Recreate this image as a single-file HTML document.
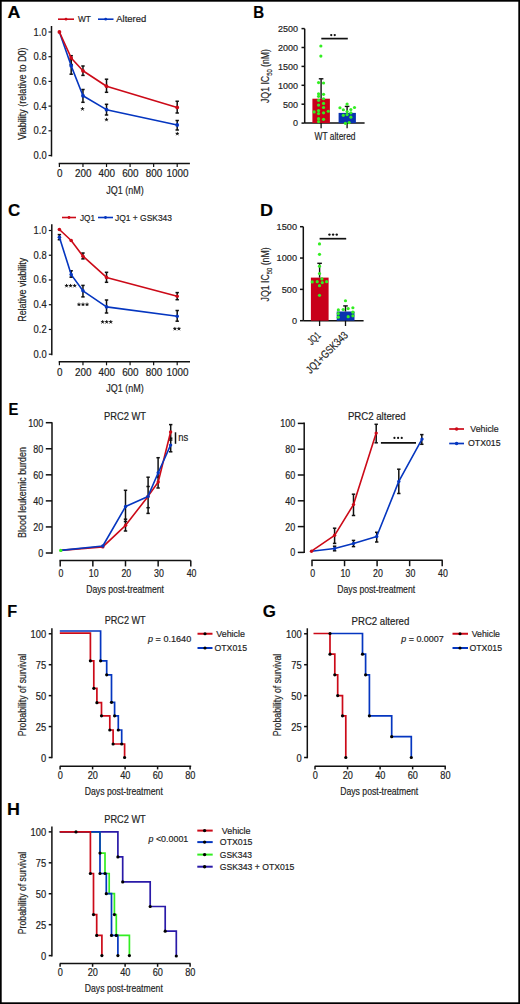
<!DOCTYPE html>
<html><head><meta charset="utf-8"><style>
html,body{margin:0;padding:0;background:#fff;}
svg{display:block;}
text{font-family:"Liberation Sans", sans-serif;stroke:#222;stroke-width:0.18px;}
</style></head><body>
<svg width="520" height="1004" viewBox="0 0 520 1004">
<rect x="0" y="0" width="520" height="1004" fill="#fff"/>
<text x="0" y="0" font-size="17" font-weight="bold" fill="#000" stroke="#000" stroke-width="0.45" transform="translate(7.55 17.80) scale(1.052 1)">A</text>
<line x1="58.00" y1="19.20" x2="74.00" y2="19.20" stroke="#cc0a18" stroke-width="1.6"/>
<circle cx="66.00" cy="19.20" r="1.4" fill="#cc0a18"/>
<text x="77.90" y="22.20" font-size="9.5" text-anchor="start" fill="#222" textLength="12.90" lengthAdjust="spacingAndGlyphs">WT</text>
<line x1="98.00" y1="19.20" x2="113.50" y2="19.20" stroke="#0536c0" stroke-width="1.6"/>
<circle cx="105.70" cy="19.20" r="1.4" fill="#0536c0"/>
<text x="116.30" y="22.20" font-size="9.5" text-anchor="start" fill="#222" textLength="29.90" lengthAdjust="spacingAndGlyphs">Altered</text>
<line x1="51.50" y1="26.00" x2="51.50" y2="156.50" stroke="#111" stroke-width="1.5"/>
<line x1="48.50" y1="155.50" x2="51.50" y2="155.50" stroke="#111" stroke-width="1.2"/>
<text x="46.60" y="159.00" font-size="10" text-anchor="end" fill="#222" textLength="13.00" lengthAdjust="spacingAndGlyphs">0.0</text>
<line x1="48.50" y1="130.80" x2="51.50" y2="130.80" stroke="#111" stroke-width="1.2"/>
<text x="46.60" y="134.30" font-size="10" text-anchor="end" fill="#222" textLength="13.00" lengthAdjust="spacingAndGlyphs">0.2</text>
<line x1="48.50" y1="106.10" x2="51.50" y2="106.10" stroke="#111" stroke-width="1.2"/>
<text x="46.60" y="109.60" font-size="10" text-anchor="end" fill="#222" textLength="13.00" lengthAdjust="spacingAndGlyphs">0.4</text>
<line x1="48.50" y1="81.40" x2="51.50" y2="81.40" stroke="#111" stroke-width="1.2"/>
<text x="46.60" y="84.90" font-size="10" text-anchor="end" fill="#222" textLength="13.00" lengthAdjust="spacingAndGlyphs">0.6</text>
<line x1="48.50" y1="56.70" x2="51.50" y2="56.70" stroke="#111" stroke-width="1.2"/>
<text x="46.60" y="60.20" font-size="10" text-anchor="end" fill="#222" textLength="13.00" lengthAdjust="spacingAndGlyphs">0.8</text>
<line x1="48.50" y1="32.00" x2="51.50" y2="32.00" stroke="#111" stroke-width="1.2"/>
<text x="46.60" y="35.50" font-size="10" text-anchor="end" fill="#222" textLength="13.00" lengthAdjust="spacingAndGlyphs">1.0</text>
<text x="26.50" y="93.80" font-size="10.5" text-anchor="middle" fill="#222" textLength="92.50" lengthAdjust="spacingAndGlyphs" transform="rotate(-90 26.50 93.80)">Viability (relative to D0)</text>
<line x1="58.70" y1="163.50" x2="189.90" y2="163.50" stroke="#111" stroke-width="1.5"/>
<line x1="59.40" y1="163.50" x2="59.40" y2="167.00" stroke="#111" stroke-width="1.2"/>
<text x="59.70" y="176.60" font-size="10" text-anchor="middle" fill="#222" textLength="5.50" lengthAdjust="spacingAndGlyphs">0</text>
<line x1="82.96" y1="163.50" x2="82.96" y2="167.00" stroke="#111" stroke-width="1.2"/>
<text x="83.26" y="176.60" font-size="10" text-anchor="middle" fill="#222" textLength="16.50" lengthAdjust="spacingAndGlyphs">200</text>
<line x1="106.52" y1="163.50" x2="106.52" y2="167.00" stroke="#111" stroke-width="1.2"/>
<text x="106.82" y="176.60" font-size="10" text-anchor="middle" fill="#222" textLength="16.50" lengthAdjust="spacingAndGlyphs">400</text>
<line x1="130.08" y1="163.50" x2="130.08" y2="167.00" stroke="#111" stroke-width="1.2"/>
<text x="130.38" y="176.60" font-size="10" text-anchor="middle" fill="#222" textLength="16.50" lengthAdjust="spacingAndGlyphs">600</text>
<line x1="153.64" y1="163.50" x2="153.64" y2="167.00" stroke="#111" stroke-width="1.2"/>
<text x="153.94" y="176.60" font-size="10" text-anchor="middle" fill="#222" textLength="16.50" lengthAdjust="spacingAndGlyphs">800</text>
<line x1="177.20" y1="163.50" x2="177.20" y2="167.00" stroke="#111" stroke-width="1.2"/>
<text x="177.50" y="176.60" font-size="10" text-anchor="middle" fill="#222" textLength="22.00" lengthAdjust="spacingAndGlyphs">1000</text>
<text x="125.00" y="193.60" font-size="11" text-anchor="middle" fill="#222" textLength="37.50" lengthAdjust="spacingAndGlyphs">JQ1 (nM)</text>
<line x1="71.18" y1="55.70" x2="71.18" y2="64.50" stroke="#111" stroke-width="1.5"/>
<line x1="69.48" y1="55.70" x2="72.88" y2="55.70" stroke="#111" stroke-width="1.5"/>
<line x1="69.48" y1="64.50" x2="72.88" y2="64.50" stroke="#111" stroke-width="1.5"/>
<line x1="71.18" y1="59.00" x2="71.18" y2="74.20" stroke="#111" stroke-width="1.5"/>
<line x1="69.48" y1="59.00" x2="72.88" y2="59.00" stroke="#111" stroke-width="1.5"/>
<line x1="69.48" y1="74.20" x2="72.88" y2="74.20" stroke="#111" stroke-width="1.5"/>
<line x1="82.96" y1="66.00" x2="82.96" y2="75.40" stroke="#111" stroke-width="1.5"/>
<line x1="81.26" y1="66.00" x2="84.66" y2="66.00" stroke="#111" stroke-width="1.5"/>
<line x1="81.26" y1="75.40" x2="84.66" y2="75.40" stroke="#111" stroke-width="1.5"/>
<line x1="82.96" y1="89.50" x2="82.96" y2="102.30" stroke="#111" stroke-width="1.5"/>
<line x1="81.26" y1="89.50" x2="84.66" y2="89.50" stroke="#111" stroke-width="1.5"/>
<line x1="81.26" y1="102.30" x2="84.66" y2="102.30" stroke="#111" stroke-width="1.5"/>
<line x1="106.52" y1="79.20" x2="106.52" y2="92.30" stroke="#111" stroke-width="1.5"/>
<line x1="104.82" y1="79.20" x2="108.22" y2="79.20" stroke="#111" stroke-width="1.5"/>
<line x1="104.82" y1="92.30" x2="108.22" y2="92.30" stroke="#111" stroke-width="1.5"/>
<line x1="106.52" y1="104.30" x2="106.52" y2="115.00" stroke="#111" stroke-width="1.5"/>
<line x1="104.82" y1="104.30" x2="108.22" y2="104.30" stroke="#111" stroke-width="1.5"/>
<line x1="104.82" y1="115.00" x2="108.22" y2="115.00" stroke="#111" stroke-width="1.5"/>
<line x1="177.20" y1="101.25" x2="177.20" y2="113.00" stroke="#111" stroke-width="1.5"/>
<line x1="175.50" y1="101.25" x2="178.90" y2="101.25" stroke="#111" stroke-width="1.5"/>
<line x1="175.50" y1="113.00" x2="178.90" y2="113.00" stroke="#111" stroke-width="1.5"/>
<line x1="177.20" y1="120.50" x2="177.20" y2="130.00" stroke="#111" stroke-width="1.5"/>
<line x1="175.50" y1="120.50" x2="178.90" y2="120.50" stroke="#111" stroke-width="1.5"/>
<line x1="175.50" y1="130.00" x2="178.90" y2="130.00" stroke="#111" stroke-width="1.5"/>
<path d="M59.40,32.00 L71.18,65.84 L82.96,95.73 L106.52,109.68 L177.20,125.00" stroke="#0536c0" stroke-width="1.6" fill="none" stroke-linejoin="round"/>
<path d="M59.40,32.00 L71.18,57.94 L82.96,70.78 L106.52,86.22 L177.20,107.46" stroke="#cc0a18" stroke-width="1.6" fill="none" stroke-linejoin="round"/>
<circle cx="59.40" cy="32.00" r="1.9" fill="#cc0a18"/>
<circle cx="71.18" cy="57.94" r="1.9" fill="#cc0a18"/>
<circle cx="82.96" cy="70.78" r="1.9" fill="#cc0a18"/>
<circle cx="106.52" cy="86.22" r="1.9" fill="#cc0a18"/>
<circle cx="177.20" cy="107.46" r="1.9" fill="#cc0a18"/>
<circle cx="71.18" cy="65.84" r="1.9" fill="#0536c0"/>
<circle cx="82.96" cy="95.73" r="1.9" fill="#0536c0"/>
<circle cx="106.52" cy="109.68" r="1.9" fill="#0536c0"/>
<circle cx="177.20" cy="125.00" r="1.9" fill="#0536c0"/>
<path d="M82.50,109.00 L82.50,107.56 M82.50,109.00 L83.87,108.56 M82.50,109.00 L83.34,110.16 M82.50,109.00 L81.66,110.16 M82.50,109.00 L81.13,108.56 " stroke="#111" stroke-width="0.94" stroke-linecap="round" fill="none"/>
<path d="M106.50,119.70 L106.50,118.26 M106.50,119.70 L107.87,119.26 M106.50,119.70 L107.34,120.86 M106.50,119.70 L105.66,120.86 M106.50,119.70 L105.13,119.26 " stroke="#111" stroke-width="0.94" stroke-linecap="round" fill="none"/>
<path d="M177.30,133.75 L177.30,132.31 M177.30,133.75 L178.67,133.31 M177.30,133.75 L178.14,134.91 M177.30,133.75 L176.46,134.91 M177.30,133.75 L175.93,133.31 " stroke="#111" stroke-width="0.94" stroke-linecap="round" fill="none"/>
<text x="0" y="0" font-size="17" font-weight="bold" fill="#000" stroke="#000" stroke-width="0.45" transform="translate(253.29 17.80) scale(0.887 1)">B</text>
<line x1="304.70" y1="28.70" x2="304.70" y2="123.10" stroke="#111" stroke-width="1.5"/>
<line x1="301.50" y1="123.10" x2="304.70" y2="123.10" stroke="#111" stroke-width="1.5"/>
<text x="298.00" y="126.40" font-size="9.5" text-anchor="end" fill="#222" textLength="5.00" lengthAdjust="spacingAndGlyphs">0</text>
<line x1="301.50" y1="104.20" x2="304.70" y2="104.20" stroke="#111" stroke-width="1.5"/>
<text x="298.00" y="107.50" font-size="9.5" text-anchor="end" fill="#222" textLength="15.00" lengthAdjust="spacingAndGlyphs">500</text>
<line x1="301.50" y1="85.30" x2="304.70" y2="85.30" stroke="#111" stroke-width="1.5"/>
<text x="298.00" y="88.60" font-size="9.5" text-anchor="end" fill="#222" textLength="20.00" lengthAdjust="spacingAndGlyphs">1000</text>
<line x1="301.50" y1="66.40" x2="304.70" y2="66.40" stroke="#111" stroke-width="1.5"/>
<text x="298.00" y="69.70" font-size="9.5" text-anchor="end" fill="#222" textLength="20.00" lengthAdjust="spacingAndGlyphs">1500</text>
<line x1="301.50" y1="47.50" x2="304.70" y2="47.50" stroke="#111" stroke-width="1.5"/>
<text x="298.00" y="50.80" font-size="9.5" text-anchor="end" fill="#222" textLength="20.00" lengthAdjust="spacingAndGlyphs">2000</text>
<line x1="301.50" y1="28.60" x2="304.70" y2="28.60" stroke="#111" stroke-width="1.5"/>
<text x="298.00" y="31.90" font-size="9.5" text-anchor="end" fill="#222" textLength="20.00" lengthAdjust="spacingAndGlyphs">2500</text>
<text x="269.30" y="76.00" font-size="10.5" text-anchor="middle" fill="#222" textLength="54.00" lengthAdjust="spacingAndGlyphs" transform="rotate(-90 269.30 76.00)">JQ1 IC<tspan font-size="7" dy="2.3">50</tspan><tspan dy="-2.3"> (nM)</tspan></text>
<line x1="304.70" y1="123.10" x2="364.60" y2="123.10" stroke="#111" stroke-width="1.5"/>
<rect x="312.40" y="98.70" width="17.50" height="24.40" fill="#c8001a"/>
<rect x="338.60" y="112.90" width="17.30" height="10.20" fill="#0a32b0"/>
<line x1="321.10" y1="123.10" x2="321.10" y2="128.30" stroke="#111" stroke-width="1.3"/>
<line x1="347.10" y1="123.10" x2="347.10" y2="128.30" stroke="#111" stroke-width="1.3"/>
<line x1="321.10" y1="78.80" x2="321.10" y2="98.70" stroke="#111" stroke-width="1.4"/>
<line x1="318.80" y1="78.80" x2="323.40" y2="78.80" stroke="#111" stroke-width="1.4"/>
<line x1="347.10" y1="106.40" x2="347.10" y2="112.90" stroke="#111" stroke-width="1.4"/>
<line x1="344.80" y1="106.40" x2="349.40" y2="106.40" stroke="#111" stroke-width="1.4"/>
<line x1="321.30" y1="38.60" x2="347.80" y2="38.60" stroke="#111" stroke-width="1.7"/>
<circle cx="331.25" cy="35.10" r="1.15" fill="#111"/>
<circle cx="334.75" cy="35.10" r="1.15" fill="#111"/>
<text x="335.00" y="139.80" font-size="10.5" text-anchor="middle" fill="#222" textLength="41.00" lengthAdjust="spacingAndGlyphs">WT altered</text>
<circle cx="320.86" cy="45.98" r="1.6" fill="#33ee22"/>
<circle cx="320.86" cy="56.07" r="1.6" fill="#33ee22"/>
<circle cx="318.57" cy="82.58" r="1.6" fill="#33ee22"/>
<circle cx="323.55" cy="82.99" r="1.6" fill="#33ee22"/>
<circle cx="318.57" cy="93.76" r="1.6" fill="#33ee22"/>
<circle cx="323.55" cy="94.29" r="1.6" fill="#33ee22"/>
<circle cx="318.57" cy="96.31" r="1.6" fill="#33ee22"/>
<circle cx="323.55" cy="98.73" r="1.6" fill="#33ee22"/>
<circle cx="318.57" cy="100.35" r="1.6" fill="#33ee22"/>
<circle cx="318.57" cy="105.06" r="1.6" fill="#33ee22"/>
<circle cx="323.55" cy="103.45" r="1.6" fill="#33ee22"/>
<circle cx="323.55" cy="107.48" r="1.6" fill="#33ee22"/>
<circle cx="314.13" cy="111.92" r="1.6" fill="#33ee22"/>
<circle cx="318.57" cy="110.58" r="1.6" fill="#33ee22"/>
<circle cx="318.57" cy="113.54" r="1.6" fill="#33ee22"/>
<circle cx="323.55" cy="112.87" r="1.6" fill="#33ee22"/>
<circle cx="328.26" cy="111.25" r="1.6" fill="#33ee22"/>
<circle cx="318.57" cy="118.65" r="1.6" fill="#33ee22"/>
<circle cx="323.55" cy="119.33" r="1.6" fill="#33ee22"/>
<circle cx="318.57" cy="121.62" r="1.6" fill="#33ee22"/>
<circle cx="347.11" cy="104.12" r="1.6" fill="#33ee22"/>
<circle cx="339.97" cy="107.75" r="1.6" fill="#33ee22"/>
<circle cx="354.51" cy="107.48" r="1.6" fill="#33ee22"/>
<circle cx="343.34" cy="109.77" r="1.6" fill="#33ee22"/>
<circle cx="350.87" cy="109.50" r="1.6" fill="#33ee22"/>
<circle cx="347.11" cy="111.52" r="1.6" fill="#33ee22"/>
<circle cx="350.87" cy="112.87" r="1.6" fill="#33ee22"/>
<circle cx="343.34" cy="115.29" r="1.6" fill="#33ee22"/>
<circle cx="347.11" cy="114.62" r="1.6" fill="#33ee22"/>
<circle cx="350.87" cy="117.17" r="1.6" fill="#33ee22"/>
<circle cx="345.36" cy="123.36" r="1.6" fill="#33ee22"/>
<circle cx="349.13" cy="122.56" r="1.6" fill="#33ee22"/>
<text x="0" y="0" font-size="17" font-weight="bold" fill="#000" stroke="#000" stroke-width="0.45" transform="translate(7.90 215.90) scale(0.999 1)">C</text>
<line x1="62.00" y1="217.50" x2="76.00" y2="217.50" stroke="#cc0a18" stroke-width="1.6"/>
<circle cx="69.00" cy="217.50" r="1.4" fill="#cc0a18"/>
<text x="80.00" y="220.70" font-size="9.5" text-anchor="start" fill="#222" textLength="15.00" lengthAdjust="spacingAndGlyphs">JQ1</text>
<line x1="98.00" y1="217.50" x2="113.00" y2="217.50" stroke="#0536c0" stroke-width="1.6"/>
<circle cx="105.50" cy="217.50" r="1.4" fill="#0536c0"/>
<text x="115.00" y="220.70" font-size="9.5" text-anchor="start" fill="#222" textLength="57.00" lengthAdjust="spacingAndGlyphs">JQ1 + GSK343</text>
<line x1="51.80" y1="224.30" x2="51.80" y2="355.30" stroke="#111" stroke-width="1.5"/>
<line x1="48.80" y1="354.20" x2="51.80" y2="354.20" stroke="#111" stroke-width="1.2"/>
<text x="46.60" y="357.70" font-size="10" text-anchor="end" fill="#222" textLength="13.00" lengthAdjust="spacingAndGlyphs">0.0</text>
<line x1="48.80" y1="329.46" x2="51.80" y2="329.46" stroke="#111" stroke-width="1.2"/>
<text x="46.60" y="332.96" font-size="10" text-anchor="end" fill="#222" textLength="13.00" lengthAdjust="spacingAndGlyphs">0.2</text>
<line x1="48.80" y1="304.72" x2="51.80" y2="304.72" stroke="#111" stroke-width="1.2"/>
<text x="46.60" y="308.22" font-size="10" text-anchor="end" fill="#222" textLength="13.00" lengthAdjust="spacingAndGlyphs">0.4</text>
<line x1="48.80" y1="279.98" x2="51.80" y2="279.98" stroke="#111" stroke-width="1.2"/>
<text x="46.60" y="283.48" font-size="10" text-anchor="end" fill="#222" textLength="13.00" lengthAdjust="spacingAndGlyphs">0.6</text>
<line x1="48.80" y1="255.24" x2="51.80" y2="255.24" stroke="#111" stroke-width="1.2"/>
<text x="46.60" y="258.74" font-size="10" text-anchor="end" fill="#222" textLength="13.00" lengthAdjust="spacingAndGlyphs">0.8</text>
<line x1="48.80" y1="230.50" x2="51.80" y2="230.50" stroke="#111" stroke-width="1.2"/>
<text x="46.60" y="234.00" font-size="10" text-anchor="end" fill="#222" textLength="13.00" lengthAdjust="spacingAndGlyphs">1.0</text>
<text x="26.50" y="289.80" font-size="10.5" text-anchor="middle" fill="#222" textLength="64.00" lengthAdjust="spacingAndGlyphs" transform="rotate(-90 26.50 289.80)">Relative viability</text>
<line x1="58.70" y1="361.80" x2="190.00" y2="361.80" stroke="#111" stroke-width="1.5"/>
<line x1="59.40" y1="361.80" x2="59.40" y2="365.30" stroke="#111" stroke-width="1.2"/>
<text x="59.70" y="375.60" font-size="10" text-anchor="middle" fill="#222" textLength="5.50" lengthAdjust="spacingAndGlyphs">0</text>
<line x1="82.96" y1="361.80" x2="82.96" y2="365.30" stroke="#111" stroke-width="1.2"/>
<text x="83.26" y="375.60" font-size="10" text-anchor="middle" fill="#222" textLength="16.50" lengthAdjust="spacingAndGlyphs">200</text>
<line x1="106.52" y1="361.80" x2="106.52" y2="365.30" stroke="#111" stroke-width="1.2"/>
<text x="106.82" y="375.60" font-size="10" text-anchor="middle" fill="#222" textLength="16.50" lengthAdjust="spacingAndGlyphs">400</text>
<line x1="130.08" y1="361.80" x2="130.08" y2="365.30" stroke="#111" stroke-width="1.2"/>
<text x="130.38" y="375.60" font-size="10" text-anchor="middle" fill="#222" textLength="16.50" lengthAdjust="spacingAndGlyphs">600</text>
<line x1="153.64" y1="361.80" x2="153.64" y2="365.30" stroke="#111" stroke-width="1.2"/>
<text x="153.94" y="375.60" font-size="10" text-anchor="middle" fill="#222" textLength="16.50" lengthAdjust="spacingAndGlyphs">800</text>
<line x1="177.20" y1="361.80" x2="177.20" y2="365.30" stroke="#111" stroke-width="1.2"/>
<text x="177.50" y="375.60" font-size="10" text-anchor="middle" fill="#222" textLength="22.00" lengthAdjust="spacingAndGlyphs">1000</text>
<text x="125.00" y="392.00" font-size="11" text-anchor="middle" fill="#222" textLength="37.50" lengthAdjust="spacingAndGlyphs">JQ1 (nM)</text>
<line x1="59.40" y1="234.60" x2="59.40" y2="239.70" stroke="#111" stroke-width="1.5"/>
<line x1="57.70" y1="234.60" x2="61.10" y2="234.60" stroke="#111" stroke-width="1.5"/>
<line x1="57.70" y1="239.70" x2="61.10" y2="239.70" stroke="#111" stroke-width="1.5"/>
<line x1="71.18" y1="270.80" x2="71.18" y2="277.20" stroke="#111" stroke-width="1.5"/>
<line x1="69.48" y1="270.80" x2="72.88" y2="270.80" stroke="#111" stroke-width="1.5"/>
<line x1="69.48" y1="277.20" x2="72.88" y2="277.20" stroke="#111" stroke-width="1.5"/>
<line x1="82.96" y1="253.00" x2="82.96" y2="258.90" stroke="#111" stroke-width="1.5"/>
<line x1="81.26" y1="253.00" x2="84.66" y2="253.00" stroke="#111" stroke-width="1.5"/>
<line x1="81.26" y1="258.90" x2="84.66" y2="258.90" stroke="#111" stroke-width="1.5"/>
<line x1="82.96" y1="285.40" x2="82.96" y2="296.90" stroke="#111" stroke-width="1.5"/>
<line x1="81.26" y1="285.40" x2="84.66" y2="285.40" stroke="#111" stroke-width="1.5"/>
<line x1="81.26" y1="296.90" x2="84.66" y2="296.90" stroke="#111" stroke-width="1.5"/>
<line x1="106.52" y1="272.30" x2="106.52" y2="282.30" stroke="#111" stroke-width="1.5"/>
<line x1="104.82" y1="272.30" x2="108.22" y2="272.30" stroke="#111" stroke-width="1.5"/>
<line x1="104.82" y1="282.30" x2="108.22" y2="282.30" stroke="#111" stroke-width="1.5"/>
<line x1="106.52" y1="300.00" x2="106.52" y2="313.00" stroke="#111" stroke-width="1.5"/>
<line x1="104.82" y1="300.00" x2="108.22" y2="300.00" stroke="#111" stroke-width="1.5"/>
<line x1="104.82" y1="313.00" x2="108.22" y2="313.00" stroke="#111" stroke-width="1.5"/>
<line x1="177.20" y1="292.60" x2="177.20" y2="299.70" stroke="#111" stroke-width="1.5"/>
<line x1="175.50" y1="292.60" x2="178.90" y2="292.60" stroke="#111" stroke-width="1.5"/>
<line x1="175.50" y1="299.70" x2="178.90" y2="299.70" stroke="#111" stroke-width="1.5"/>
<line x1="177.20" y1="310.50" x2="177.20" y2="321.20" stroke="#111" stroke-width="1.5"/>
<line x1="175.50" y1="310.50" x2="178.90" y2="310.50" stroke="#111" stroke-width="1.5"/>
<line x1="175.50" y1="321.20" x2="178.90" y2="321.20" stroke="#111" stroke-width="1.5"/>
<path d="M59.40,237.20 L71.18,274.60 L82.96,290.80 L106.52,306.90 L177.20,316.20" stroke="#0536c0" stroke-width="1.6" fill="none" stroke-linejoin="round"/>
<path d="M59.40,229.50 L71.18,240.50 L82.96,256.20 L106.52,277.40 L177.20,296.20" stroke="#cc0a18" stroke-width="1.6" fill="none" stroke-linejoin="round"/>
<circle cx="59.40" cy="229.50" r="1.8" fill="#cc0a18"/>
<circle cx="71.18" cy="240.50" r="1.8" fill="#cc0a18"/>
<circle cx="82.96" cy="256.20" r="1.8" fill="#cc0a18"/>
<circle cx="106.52" cy="277.40" r="1.8" fill="#cc0a18"/>
<circle cx="177.20" cy="296.20" r="1.8" fill="#cc0a18"/>
<circle cx="59.40" cy="237.20" r="1.8" fill="#0536c0"/>
<circle cx="71.18" cy="274.60" r="1.8" fill="#0536c0"/>
<circle cx="82.96" cy="290.80" r="1.8" fill="#0536c0"/>
<circle cx="106.52" cy="306.90" r="1.8" fill="#0536c0"/>
<circle cx="177.20" cy="316.20" r="1.8" fill="#0536c0"/>
<path d="M66.55,285.80 L66.55,284.36 M66.55,285.80 L67.92,285.36 M66.55,285.80 L67.39,286.96 M66.55,285.80 L65.71,286.96 M66.55,285.80 L65.18,285.36 " stroke="#111" stroke-width="0.94" stroke-linecap="round" fill="none"/>
<path d="M70.60,285.80 L70.60,284.36 M70.60,285.80 L71.97,285.36 M70.60,285.80 L71.44,286.96 M70.60,285.80 L69.76,286.96 M70.60,285.80 L69.23,285.36 " stroke="#111" stroke-width="0.94" stroke-linecap="round" fill="none"/>
<path d="M74.65,285.80 L74.65,284.36 M74.65,285.80 L76.02,285.36 M74.65,285.80 L75.49,286.96 M74.65,285.80 L73.81,286.96 M74.65,285.80 L73.28,285.36 " stroke="#111" stroke-width="0.94" stroke-linecap="round" fill="none"/>
<path d="M78.95,304.50 L78.95,303.06 M78.95,304.50 L80.32,304.06 M78.95,304.50 L79.79,305.66 M78.95,304.50 L78.11,305.66 M78.95,304.50 L77.58,304.06 " stroke="#111" stroke-width="0.94" stroke-linecap="round" fill="none"/>
<path d="M83.00,304.50 L83.00,303.06 M83.00,304.50 L84.37,304.06 M83.00,304.50 L83.84,305.66 M83.00,304.50 L82.16,305.66 M83.00,304.50 L81.63,304.06 " stroke="#111" stroke-width="0.94" stroke-linecap="round" fill="none"/>
<path d="M87.05,304.50 L87.05,303.06 M87.05,304.50 L88.42,304.06 M87.05,304.50 L87.89,305.66 M87.05,304.50 L86.21,305.66 M87.05,304.50 L85.68,304.06 " stroke="#111" stroke-width="0.94" stroke-linecap="round" fill="none"/>
<path d="M102.65,322.00 L102.65,320.56 M102.65,322.00 L104.02,321.56 M102.65,322.00 L103.49,323.16 M102.65,322.00 L101.81,323.16 M102.65,322.00 L101.28,321.56 " stroke="#111" stroke-width="0.94" stroke-linecap="round" fill="none"/>
<path d="M106.70,322.00 L106.70,320.56 M106.70,322.00 L108.07,321.56 M106.70,322.00 L107.54,323.16 M106.70,322.00 L105.86,323.16 M106.70,322.00 L105.33,321.56 " stroke="#111" stroke-width="0.94" stroke-linecap="round" fill="none"/>
<path d="M110.75,322.00 L110.75,320.56 M110.75,322.00 L112.12,321.56 M110.75,322.00 L111.59,323.16 M110.75,322.00 L109.91,323.16 M110.75,322.00 L109.38,321.56 " stroke="#111" stroke-width="0.94" stroke-linecap="round" fill="none"/>
<path d="M174.88,328.80 L174.88,327.36 M174.88,328.80 L176.24,328.36 M174.88,328.80 L175.72,329.96 M174.88,328.80 L174.03,329.96 M174.88,328.80 L173.51,328.36 " stroke="#111" stroke-width="0.94" stroke-linecap="round" fill="none"/>
<path d="M178.93,328.80 L178.93,327.36 M178.93,328.80 L180.29,328.36 M178.93,328.80 L179.77,329.96 M178.93,328.80 L178.08,329.96 M178.93,328.80 L177.56,328.36 " stroke="#111" stroke-width="0.94" stroke-linecap="round" fill="none"/>
<text x="0" y="0" font-size="17" font-weight="bold" fill="#000" stroke="#000" stroke-width="0.45" transform="translate(259.99 215.70) scale(1.065 1)">D</text>
<line x1="303.30" y1="226.70" x2="303.30" y2="320.70" stroke="#111" stroke-width="1.5"/>
<line x1="300.00" y1="320.70" x2="303.30" y2="320.70" stroke="#111" stroke-width="1.5"/>
<text x="297.00" y="324.10" font-size="9.5" text-anchor="end" fill="#222" textLength="5.10" lengthAdjust="spacingAndGlyphs">0</text>
<line x1="300.00" y1="289.37" x2="303.30" y2="289.37" stroke="#111" stroke-width="1.5"/>
<text x="297.00" y="292.77" font-size="9.5" text-anchor="end" fill="#222" textLength="15.30" lengthAdjust="spacingAndGlyphs">500</text>
<line x1="300.00" y1="258.04" x2="303.30" y2="258.04" stroke="#111" stroke-width="1.5"/>
<text x="297.00" y="261.44" font-size="9.5" text-anchor="end" fill="#222" textLength="20.40" lengthAdjust="spacingAndGlyphs">1000</text>
<line x1="300.00" y1="226.71" x2="303.30" y2="226.71" stroke="#111" stroke-width="1.5"/>
<text x="297.00" y="230.11" font-size="9.5" text-anchor="end" fill="#222" textLength="20.40" lengthAdjust="spacingAndGlyphs">1500</text>
<text x="269.30" y="274.40" font-size="10.5" text-anchor="middle" fill="#222" textLength="54.00" lengthAdjust="spacingAndGlyphs" transform="rotate(-90 269.30 274.40)">JQ1 IC<tspan font-size="7" dy="2.3">50</tspan><tspan dy="-2.3"> (nM)</tspan></text>
<line x1="303.30" y1="320.70" x2="363.60" y2="320.70" stroke="#111" stroke-width="1.5"/>
<rect x="310.90" y="277.60" width="17.70" height="43.10" fill="#c8001a"/>
<rect x="336.70" y="311.50" width="17.80" height="9.20" fill="#0a32b0"/>
<line x1="319.60" y1="320.70" x2="319.60" y2="326.00" stroke="#111" stroke-width="1.3"/>
<line x1="345.50" y1="320.70" x2="345.50" y2="326.00" stroke="#111" stroke-width="1.3"/>
<line x1="319.60" y1="263.30" x2="319.60" y2="277.60" stroke="#111" stroke-width="1.4"/>
<line x1="317.30" y1="263.30" x2="321.90" y2="263.30" stroke="#111" stroke-width="1.4"/>
<line x1="345.50" y1="305.90" x2="345.50" y2="311.50" stroke="#111" stroke-width="1.4"/>
<line x1="343.20" y1="305.90" x2="347.80" y2="305.90" stroke="#111" stroke-width="1.4"/>
<line x1="319.60" y1="238.70" x2="346.20" y2="238.70" stroke="#111" stroke-width="1.7"/>
<circle cx="329.45" cy="234.60" r="1.2" fill="#111"/>
<circle cx="333.10" cy="234.60" r="1.2" fill="#111"/>
<circle cx="336.75" cy="234.60" r="1.2" fill="#111"/>
<text x="321.30" y="336.00" font-size="10.5" text-anchor="end" fill="#222" textLength="13.50" lengthAdjust="spacingAndGlyphs" transform="rotate(-45 321.30 336.00)">JQ1</text>
<text x="348.60" y="336.00" font-size="11" text-anchor="end" fill="#222" textLength="54.00" lengthAdjust="spacingAndGlyphs" transform="rotate(-45 348.60 336.00)">JQ1+GSK343</text>
<circle cx="319.50" cy="243.96" r="1.6" fill="#33ee22"/>
<circle cx="319.50" cy="254.32" r="1.6" fill="#33ee22"/>
<circle cx="319.50" cy="266.16" r="1.6" fill="#33ee22"/>
<circle cx="319.50" cy="273.57" r="1.6" fill="#33ee22"/>
<circle cx="321.92" cy="278.95" r="1.6" fill="#33ee22"/>
<circle cx="312.23" cy="281.91" r="1.6" fill="#33ee22"/>
<circle cx="317.21" cy="281.64" r="1.6" fill="#33ee22"/>
<circle cx="322.32" cy="282.58" r="1.6" fill="#33ee22"/>
<circle cx="326.63" cy="281.64" r="1.6" fill="#33ee22"/>
<circle cx="319.50" cy="285.68" r="1.6" fill="#33ee22"/>
<circle cx="319.50" cy="295.37" r="1.6" fill="#33ee22"/>
<circle cx="345.47" cy="300.75" r="1.6" fill="#33ee22"/>
<circle cx="338.34" cy="309.91" r="1.6" fill="#33ee22"/>
<circle cx="343.18" cy="309.50" r="1.6" fill="#33ee22"/>
<circle cx="348.16" cy="308.56" r="1.6" fill="#33ee22"/>
<circle cx="352.87" cy="307.75" r="1.6" fill="#33ee22"/>
<circle cx="338.34" cy="313.54" r="1.6" fill="#33ee22"/>
<circle cx="352.87" cy="312.19" r="1.6" fill="#33ee22"/>
<circle cx="338.34" cy="317.17" r="1.6" fill="#33ee22"/>
<circle cx="348.16" cy="316.64" r="1.6" fill="#33ee22"/>
<circle cx="352.87" cy="315.83" r="1.6" fill="#33ee22"/>
<text x="0" y="0" font-size="17" font-weight="bold" fill="#000" stroke="#000" stroke-width="0.45" transform="translate(8.41 414.80) scale(0.870 1)">E</text>
<text x="125.00" y="419.50" font-size="10" text-anchor="middle" fill="#222" textLength="42.00" lengthAdjust="spacingAndGlyphs">PRC2 WT</text>
<line x1="52.00" y1="422.20" x2="52.00" y2="553.70" stroke="#111" stroke-width="1.5"/>
<line x1="45.80" y1="553.00" x2="52.00" y2="553.00" stroke="#111" stroke-width="1.5"/>
<text x="43.20" y="557.00" font-size="10" text-anchor="end" fill="#222" textLength="5.00" lengthAdjust="spacingAndGlyphs">0</text>
<line x1="45.80" y1="526.94" x2="52.00" y2="526.94" stroke="#111" stroke-width="1.5"/>
<text x="43.20" y="530.94" font-size="10" text-anchor="end" fill="#222" textLength="10.00" lengthAdjust="spacingAndGlyphs">20</text>
<line x1="45.80" y1="500.88" x2="52.00" y2="500.88" stroke="#111" stroke-width="1.5"/>
<text x="43.20" y="504.88" font-size="10" text-anchor="end" fill="#222" textLength="10.00" lengthAdjust="spacingAndGlyphs">40</text>
<line x1="45.80" y1="474.82" x2="52.00" y2="474.82" stroke="#111" stroke-width="1.5"/>
<text x="43.20" y="478.82" font-size="10" text-anchor="end" fill="#222" textLength="10.00" lengthAdjust="spacingAndGlyphs">60</text>
<line x1="45.80" y1="448.76" x2="52.00" y2="448.76" stroke="#111" stroke-width="1.5"/>
<text x="43.20" y="452.76" font-size="10" text-anchor="end" fill="#222" textLength="10.00" lengthAdjust="spacingAndGlyphs">80</text>
<line x1="45.80" y1="422.70" x2="52.00" y2="422.70" stroke="#111" stroke-width="1.5"/>
<text x="43.20" y="426.70" font-size="10" text-anchor="end" fill="#222" textLength="15.00" lengthAdjust="spacingAndGlyphs">100</text>
<text x="26.00" y="492.50" font-size="10.5" text-anchor="middle" fill="#222" textLength="91.00" lengthAdjust="spacingAndGlyphs" transform="rotate(-90 26.00 492.50)">Blood leukemic burden</text>
<line x1="59.50" y1="560.50" x2="190.80" y2="560.50" stroke="#111" stroke-width="1.5"/>
<line x1="60.20" y1="560.50" x2="60.20" y2="566.40" stroke="#111" stroke-width="1.5"/>
<text x="61.00" y="576.60" font-size="10" text-anchor="middle" fill="#222" textLength="4.90" lengthAdjust="spacingAndGlyphs">0</text>
<line x1="92.85" y1="560.50" x2="92.85" y2="566.40" stroke="#111" stroke-width="1.5"/>
<text x="93.65" y="576.60" font-size="10" text-anchor="middle" fill="#222" textLength="9.80" lengthAdjust="spacingAndGlyphs">10</text>
<line x1="125.50" y1="560.50" x2="125.50" y2="566.40" stroke="#111" stroke-width="1.5"/>
<text x="126.30" y="576.60" font-size="10" text-anchor="middle" fill="#222" textLength="9.80" lengthAdjust="spacingAndGlyphs">20</text>
<line x1="158.15" y1="560.50" x2="158.15" y2="566.40" stroke="#111" stroke-width="1.5"/>
<text x="158.95" y="576.60" font-size="10" text-anchor="middle" fill="#222" textLength="9.80" lengthAdjust="spacingAndGlyphs">30</text>
<line x1="190.80" y1="560.50" x2="190.80" y2="566.40" stroke="#111" stroke-width="1.5"/>
<text x="191.60" y="576.60" font-size="10" text-anchor="middle" fill="#222" textLength="9.80" lengthAdjust="spacingAndGlyphs">40</text>
<text x="125.10" y="592.80" font-size="10.5" text-anchor="middle" fill="#222" textLength="77.80" lengthAdjust="spacingAndGlyphs">Days post-treatment</text>
<line x1="125.50" y1="490.30" x2="125.50" y2="531.00" stroke="#111" stroke-width="1.5"/>
<line x1="123.80" y1="490.30" x2="127.20" y2="490.30" stroke="#111" stroke-width="1.5"/>
<line x1="123.80" y1="519.20" x2="127.20" y2="519.20" stroke="#111" stroke-width="1.5"/>
<line x1="123.80" y1="521.50" x2="127.20" y2="521.50" stroke="#111" stroke-width="1.5"/>
<line x1="123.80" y1="531.00" x2="127.20" y2="531.00" stroke="#111" stroke-width="1.5"/>
<line x1="148.10" y1="477.20" x2="148.10" y2="513.40" stroke="#111" stroke-width="1.5"/>
<line x1="146.40" y1="477.20" x2="149.80" y2="477.20" stroke="#111" stroke-width="1.5"/>
<line x1="146.40" y1="486.50" x2="149.80" y2="486.50" stroke="#111" stroke-width="1.5"/>
<line x1="146.40" y1="507.70" x2="149.80" y2="507.70" stroke="#111" stroke-width="1.5"/>
<line x1="146.40" y1="513.40" x2="149.80" y2="513.40" stroke="#111" stroke-width="1.5"/>
<line x1="158.10" y1="457.70" x2="158.10" y2="488.00" stroke="#111" stroke-width="1.5"/>
<line x1="156.40" y1="457.70" x2="159.80" y2="457.70" stroke="#111" stroke-width="1.5"/>
<line x1="156.40" y1="477.00" x2="159.80" y2="477.00" stroke="#111" stroke-width="1.5"/>
<line x1="156.40" y1="488.00" x2="159.80" y2="488.00" stroke="#111" stroke-width="1.5"/>
<line x1="170.70" y1="424.60" x2="170.70" y2="451.80" stroke="#111" stroke-width="1.5"/>
<line x1="169.00" y1="424.60" x2="172.40" y2="424.60" stroke="#111" stroke-width="1.5"/>
<line x1="169.00" y1="438.20" x2="172.40" y2="438.20" stroke="#111" stroke-width="1.5"/>
<line x1="169.00" y1="440.00" x2="172.40" y2="440.00" stroke="#111" stroke-width="1.5"/>
<line x1="169.00" y1="451.80" x2="172.40" y2="451.80" stroke="#111" stroke-width="1.5"/>
<path d="M60.70,550.40 L102.80,546.90 L125.60,525.30 L148.00,496.40 L158.20,482.00 L170.60,432.00" stroke="#cc0a18" stroke-width="1.6" fill="none" stroke-linejoin="round"/>
<path d="M60.70,550.40 L102.80,546.00 L125.60,506.50 L148.00,496.40 L158.20,472.80 L170.60,445.10" stroke="#0536c0" stroke-width="1.6" fill="none" stroke-linejoin="round"/>
<circle cx="102.80" cy="546.90" r="1.7" fill="#cc0a18"/>
<circle cx="125.60" cy="525.30" r="1.7" fill="#cc0a18"/>
<circle cx="148.00" cy="496.40" r="1.7" fill="#cc0a18"/>
<circle cx="158.20" cy="482.00" r="1.7" fill="#cc0a18"/>
<circle cx="170.60" cy="432.00" r="1.7" fill="#cc0a18"/>
<circle cx="102.80" cy="546.00" r="1.7" fill="#0536c0"/>
<circle cx="125.60" cy="506.50" r="1.7" fill="#0536c0"/>
<circle cx="148.00" cy="496.40" r="1.7" fill="#0536c0"/>
<circle cx="158.20" cy="472.80" r="1.7" fill="#0536c0"/>
<circle cx="170.60" cy="445.10" r="1.7" fill="#0536c0"/>
<circle cx="60.70" cy="550.40" r="1.7" fill="#33ee22"/>
<line x1="175.50" y1="432.30" x2="175.50" y2="443.80" stroke="#111" stroke-width="1.5"/>
<text x="178.20" y="440.70" font-size="10" text-anchor="start" fill="#222" textLength="10.00" lengthAdjust="spacingAndGlyphs">ns</text>
<text x="376.80" y="419.80" font-size="10" text-anchor="middle" fill="#222" textLength="57.80" lengthAdjust="spacingAndGlyphs">PRC2 altered</text>
<line x1="304.20" y1="422.60" x2="304.20" y2="553.10" stroke="#111" stroke-width="1.5"/>
<line x1="297.80" y1="552.40" x2="304.20" y2="552.40" stroke="#111" stroke-width="1.5"/>
<text x="295.20" y="556.40" font-size="10" text-anchor="end" fill="#222" textLength="5.00" lengthAdjust="spacingAndGlyphs">0</text>
<line x1="297.80" y1="526.60" x2="304.20" y2="526.60" stroke="#111" stroke-width="1.5"/>
<text x="295.20" y="530.60" font-size="10" text-anchor="end" fill="#222" textLength="10.00" lengthAdjust="spacingAndGlyphs">20</text>
<line x1="297.80" y1="500.80" x2="304.20" y2="500.80" stroke="#111" stroke-width="1.5"/>
<text x="295.20" y="504.80" font-size="10" text-anchor="end" fill="#222" textLength="10.00" lengthAdjust="spacingAndGlyphs">40</text>
<line x1="297.80" y1="475.00" x2="304.20" y2="475.00" stroke="#111" stroke-width="1.5"/>
<text x="295.20" y="479.00" font-size="10" text-anchor="end" fill="#222" textLength="10.00" lengthAdjust="spacingAndGlyphs">60</text>
<line x1="297.80" y1="449.20" x2="304.20" y2="449.20" stroke="#111" stroke-width="1.5"/>
<text x="295.20" y="453.20" font-size="10" text-anchor="end" fill="#222" textLength="10.00" lengthAdjust="spacingAndGlyphs">80</text>
<line x1="297.80" y1="423.40" x2="304.20" y2="423.40" stroke="#111" stroke-width="1.5"/>
<text x="295.20" y="427.40" font-size="10" text-anchor="end" fill="#222" textLength="15.00" lengthAdjust="spacingAndGlyphs">100</text>
<line x1="311.50" y1="560.30" x2="442.70" y2="560.30" stroke="#111" stroke-width="1.5"/>
<line x1="312.00" y1="560.30" x2="312.00" y2="566.20" stroke="#111" stroke-width="1.5"/>
<text x="312.80" y="576.60" font-size="10" text-anchor="middle" fill="#222" textLength="4.90" lengthAdjust="spacingAndGlyphs">0</text>
<line x1="344.55" y1="560.30" x2="344.55" y2="566.20" stroke="#111" stroke-width="1.5"/>
<text x="345.35" y="576.60" font-size="10" text-anchor="middle" fill="#222" textLength="9.80" lengthAdjust="spacingAndGlyphs">10</text>
<line x1="377.10" y1="560.30" x2="377.10" y2="566.20" stroke="#111" stroke-width="1.5"/>
<text x="377.90" y="576.60" font-size="10" text-anchor="middle" fill="#222" textLength="9.80" lengthAdjust="spacingAndGlyphs">20</text>
<line x1="409.65" y1="560.30" x2="409.65" y2="566.20" stroke="#111" stroke-width="1.5"/>
<text x="410.45" y="576.60" font-size="10" text-anchor="middle" fill="#222" textLength="9.80" lengthAdjust="spacingAndGlyphs">30</text>
<line x1="442.20" y1="560.30" x2="442.20" y2="566.20" stroke="#111" stroke-width="1.5"/>
<text x="443.00" y="576.60" font-size="10" text-anchor="middle" fill="#222" textLength="9.80" lengthAdjust="spacingAndGlyphs">40</text>
<text x="376.20" y="592.80" font-size="10.5" text-anchor="middle" fill="#222" textLength="77.80" lengthAdjust="spacingAndGlyphs">Days post-treatment</text>
<line x1="334.60" y1="528.20" x2="334.60" y2="543.40" stroke="#111" stroke-width="1.5"/>
<line x1="332.90" y1="528.20" x2="336.30" y2="528.20" stroke="#111" stroke-width="1.5"/>
<line x1="332.90" y1="543.40" x2="336.30" y2="543.40" stroke="#111" stroke-width="1.5"/>
<line x1="353.50" y1="494.20" x2="353.50" y2="515.50" stroke="#111" stroke-width="1.5"/>
<line x1="351.80" y1="494.20" x2="355.20" y2="494.20" stroke="#111" stroke-width="1.5"/>
<line x1="351.80" y1="515.50" x2="355.20" y2="515.50" stroke="#111" stroke-width="1.5"/>
<line x1="376.20" y1="424.30" x2="376.20" y2="442.80" stroke="#111" stroke-width="1.5"/>
<line x1="374.50" y1="424.30" x2="377.90" y2="424.30" stroke="#111" stroke-width="1.5"/>
<line x1="374.50" y1="442.80" x2="377.90" y2="442.80" stroke="#111" stroke-width="1.5"/>
<line x1="334.60" y1="546.20" x2="334.60" y2="550.80" stroke="#111" stroke-width="1.5"/>
<line x1="332.90" y1="546.20" x2="336.30" y2="546.20" stroke="#111" stroke-width="1.5"/>
<line x1="332.90" y1="550.80" x2="336.30" y2="550.80" stroke="#111" stroke-width="1.5"/>
<line x1="353.50" y1="540.40" x2="353.50" y2="546.60" stroke="#111" stroke-width="1.5"/>
<line x1="351.80" y1="540.40" x2="355.20" y2="540.40" stroke="#111" stroke-width="1.5"/>
<line x1="351.80" y1="546.60" x2="355.20" y2="546.60" stroke="#111" stroke-width="1.5"/>
<line x1="376.70" y1="532.30" x2="376.70" y2="542.00" stroke="#111" stroke-width="1.5"/>
<line x1="375.00" y1="532.30" x2="378.40" y2="532.30" stroke="#111" stroke-width="1.5"/>
<line x1="375.00" y1="542.00" x2="378.40" y2="542.00" stroke="#111" stroke-width="1.5"/>
<line x1="398.80" y1="469.20" x2="398.80" y2="493.50" stroke="#111" stroke-width="1.5"/>
<line x1="397.10" y1="469.20" x2="400.50" y2="469.20" stroke="#111" stroke-width="1.5"/>
<line x1="397.10" y1="493.50" x2="400.50" y2="493.50" stroke="#111" stroke-width="1.5"/>
<line x1="421.80" y1="434.60" x2="421.80" y2="444.30" stroke="#111" stroke-width="1.5"/>
<line x1="420.10" y1="434.60" x2="423.50" y2="434.60" stroke="#111" stroke-width="1.5"/>
<line x1="420.10" y1="444.30" x2="423.50" y2="444.30" stroke="#111" stroke-width="1.5"/>
<path d="M311.50,551.20 L334.60,548.50 L353.50,543.40 L376.70,536.50 L398.80,481.40 L422.00,439.10" stroke="#0536c0" stroke-width="1.6" fill="none" stroke-linejoin="round"/>
<path d="M311.50,551.20 L334.60,535.30 L353.50,504.60 L376.20,433.10" stroke="#cc0a18" stroke-width="1.6" fill="none" stroke-linejoin="round"/>
<circle cx="311.50" cy="551.20" r="1.7" fill="#cc0a18"/>
<circle cx="334.60" cy="535.30" r="1.7" fill="#cc0a18"/>
<circle cx="353.50" cy="504.60" r="1.7" fill="#cc0a18"/>
<circle cx="376.20" cy="433.10" r="1.7" fill="#cc0a18"/>
<circle cx="334.60" cy="548.50" r="1.7" fill="#0536c0"/>
<circle cx="353.50" cy="543.40" r="1.7" fill="#0536c0"/>
<circle cx="376.70" cy="536.50" r="1.7" fill="#0536c0"/>
<circle cx="398.80" cy="481.40" r="1.7" fill="#0536c0"/>
<circle cx="422.00" cy="439.10" r="1.7" fill="#0536c0"/>
<line x1="380.90" y1="442.90" x2="416.00" y2="442.90" stroke="#111" stroke-width="1.7"/>
<circle cx="394.45" cy="437.90" r="1.1" fill="#111"/>
<circle cx="398.10" cy="437.90" r="1.1" fill="#111"/>
<circle cx="401.75" cy="437.90" r="1.1" fill="#111"/>
<line x1="449.20" y1="429.00" x2="464.00" y2="429.00" stroke="#cc0a18" stroke-width="1.7"/>
<circle cx="456.60" cy="429.00" r="1.8" fill="#cc0a18"/>
<text x="484.50" y="431.80" font-size="9.2" text-anchor="middle" fill="#222" textLength="28.30" lengthAdjust="spacingAndGlyphs">Vehicle</text>
<line x1="449.20" y1="443.50" x2="464.00" y2="443.50" stroke="#0536c0" stroke-width="1.7"/>
<circle cx="456.60" cy="443.50" r="1.8" fill="#0536c0"/>
<text x="484.30" y="445.60" font-size="9.2" text-anchor="middle" fill="#222" textLength="32.60" lengthAdjust="spacingAndGlyphs">OTX015</text>
<text x="0" y="0" font-size="17" font-weight="bold" fill="#000" stroke="#000" stroke-width="0.45" transform="translate(7.22 617.40) scale(0.951 1)">F</text>
<text x="125.20" y="624.30" font-size="10" text-anchor="middle" fill="#222" textLength="41.00" lengthAdjust="spacingAndGlyphs">PRC2 WT</text>
<line x1="51.90" y1="628.28" x2="51.90" y2="758.30" stroke="#111" stroke-width="1.5"/>
<line x1="48.70" y1="757.50" x2="51.90" y2="757.50" stroke="#111" stroke-width="1.5"/>
<text x="46.20" y="761.80" font-size="10" text-anchor="end" fill="#222" textLength="5.20" lengthAdjust="spacingAndGlyphs">0</text>
<line x1="48.70" y1="726.57" x2="51.90" y2="726.57" stroke="#111" stroke-width="1.5"/>
<text x="46.20" y="730.87" font-size="10" text-anchor="end" fill="#222" textLength="10.40" lengthAdjust="spacingAndGlyphs">25</text>
<line x1="48.70" y1="695.64" x2="51.90" y2="695.64" stroke="#111" stroke-width="1.5"/>
<text x="46.20" y="699.94" font-size="10" text-anchor="end" fill="#222" textLength="10.40" lengthAdjust="spacingAndGlyphs">50</text>
<line x1="48.70" y1="664.71" x2="51.90" y2="664.71" stroke="#111" stroke-width="1.5"/>
<text x="46.20" y="669.01" font-size="10" text-anchor="end" fill="#222" textLength="10.40" lengthAdjust="spacingAndGlyphs">75</text>
<line x1="48.70" y1="633.78" x2="51.90" y2="633.78" stroke="#111" stroke-width="1.5"/>
<text x="46.20" y="638.08" font-size="10" text-anchor="end" fill="#222" textLength="15.60" lengthAdjust="spacingAndGlyphs">100</text>
<line x1="59.80" y1="766.20" x2="191.20" y2="766.20" stroke="#111" stroke-width="1.5"/>
<line x1="60.10" y1="766.20" x2="60.10" y2="769.40" stroke="#111" stroke-width="1.5"/>
<text x="60.30" y="778.90" font-size="10" text-anchor="middle" fill="#222" textLength="5.10" lengthAdjust="spacingAndGlyphs">0</text>
<line x1="92.60" y1="766.20" x2="92.60" y2="769.40" stroke="#111" stroke-width="1.5"/>
<text x="92.80" y="778.90" font-size="10" text-anchor="middle" fill="#222" textLength="10.20" lengthAdjust="spacingAndGlyphs">20</text>
<line x1="125.10" y1="766.20" x2="125.10" y2="769.40" stroke="#111" stroke-width="1.5"/>
<text x="125.30" y="778.90" font-size="10" text-anchor="middle" fill="#222" textLength="10.20" lengthAdjust="spacingAndGlyphs">40</text>
<line x1="157.60" y1="766.20" x2="157.60" y2="769.40" stroke="#111" stroke-width="1.5"/>
<text x="157.80" y="778.90" font-size="10" text-anchor="middle" fill="#222" textLength="10.20" lengthAdjust="spacingAndGlyphs">60</text>
<line x1="190.10" y1="766.20" x2="190.10" y2="769.40" stroke="#111" stroke-width="1.5"/>
<text x="190.30" y="778.90" font-size="10" text-anchor="middle" fill="#222" textLength="10.20" lengthAdjust="spacingAndGlyphs">80</text>
<text x="123.80" y="794.80" font-size="10.5" text-anchor="middle" fill="#222" textLength="78.00" lengthAdjust="spacingAndGlyphs">Days post-treatment</text>
<text x="26.00" y="694.94" font-size="11" text-anchor="middle" fill="#222" textLength="82.40" lengthAdjust="spacingAndGlyphs" transform="rotate(-90 26.00 694.94)">Probability of survival</text>
<path d="M59.8,631 H100.6 V660.8 H106.7 V674.8 H111.5 V702.3 H114.6 V715.8 H118.3 V730 H121.7 V744" stroke="#0536c0" stroke-width="1.7" fill="none" />
<path d="M59.8,633.1 H90.4 V660.8 H93.8 V688.3 H96.9 V702.7 H101.5 V715.8 H109.8 V730 H113.1 V744 H124.6 V757.5" stroke="#cc0a18" stroke-width="1.7" fill="none" />
<circle cx="90.40" cy="660.80" r="1.6" fill="#000"/>
<circle cx="93.80" cy="688.30" r="1.6" fill="#000"/>
<circle cx="96.90" cy="702.70" r="1.6" fill="#000"/>
<circle cx="101.50" cy="715.80" r="1.6" fill="#000"/>
<circle cx="109.80" cy="730.00" r="1.6" fill="#000"/>
<circle cx="113.10" cy="744.00" r="1.6" fill="#000"/>
<circle cx="124.60" cy="757.50" r="1.6" fill="#000"/>
<circle cx="100.60" cy="660.80" r="1.6" fill="#000"/>
<circle cx="106.70" cy="674.80" r="1.6" fill="#000"/>
<circle cx="111.50" cy="702.30" r="1.6" fill="#000"/>
<circle cx="114.60" cy="715.80" r="1.6" fill="#000"/>
<circle cx="118.30" cy="730.00" r="1.6" fill="#000"/>
<circle cx="121.70" cy="744.00" r="1.6" fill="#000"/>
<text x="148.00" y="641.50" font-size="9.2" text-anchor="start" fill="#222" textLength="43.20" lengthAdjust="spacingAndGlyphs"><tspan font-style="italic">p</tspan> = 0.1640</text>
<line x1="197.50" y1="633.75" x2="212.50" y2="633.75" stroke="#cc0a18" stroke-width="2.0"/>
<circle cx="205.00" cy="633.75" r="1.6" fill="#000"/>
<text x="216.25" y="636.50" font-size="9.2" text-anchor="start" fill="#222" textLength="28.75" lengthAdjust="spacingAndGlyphs">Vehicle</text>
<line x1="197.50" y1="648.00" x2="212.50" y2="648.00" stroke="#0536c0" stroke-width="2.0"/>
<circle cx="205.00" cy="648.00" r="1.6" fill="#000"/>
<text x="214.50" y="650.80" font-size="9.2" text-anchor="start" fill="#222" textLength="32.50" lengthAdjust="spacingAndGlyphs">OTX015</text>
<text x="0" y="0" font-size="17" font-weight="bold" fill="#000" stroke="#000" stroke-width="0.45" transform="translate(262.71 617.00) scale(0.994 1)">G</text>
<text x="380.40" y="625.20" font-size="10" text-anchor="middle" fill="#222" textLength="57.80" lengthAdjust="spacingAndGlyphs">PRC2 altered</text>
<line x1="307.30" y1="628.28" x2="307.30" y2="758.30" stroke="#111" stroke-width="1.5"/>
<line x1="304.10" y1="757.50" x2="307.30" y2="757.50" stroke="#111" stroke-width="1.5"/>
<text x="301.60" y="761.80" font-size="10" text-anchor="end" fill="#222" textLength="5.20" lengthAdjust="spacingAndGlyphs">0</text>
<line x1="304.10" y1="726.57" x2="307.30" y2="726.57" stroke="#111" stroke-width="1.5"/>
<text x="301.60" y="730.87" font-size="10" text-anchor="end" fill="#222" textLength="10.40" lengthAdjust="spacingAndGlyphs">25</text>
<line x1="304.10" y1="695.64" x2="307.30" y2="695.64" stroke="#111" stroke-width="1.5"/>
<text x="301.60" y="699.94" font-size="10" text-anchor="end" fill="#222" textLength="10.40" lengthAdjust="spacingAndGlyphs">50</text>
<line x1="304.10" y1="664.71" x2="307.30" y2="664.71" stroke="#111" stroke-width="1.5"/>
<text x="301.60" y="669.01" font-size="10" text-anchor="end" fill="#222" textLength="10.40" lengthAdjust="spacingAndGlyphs">75</text>
<line x1="304.10" y1="633.78" x2="307.30" y2="633.78" stroke="#111" stroke-width="1.5"/>
<text x="301.60" y="638.08" font-size="10" text-anchor="end" fill="#222" textLength="15.60" lengthAdjust="spacingAndGlyphs">100</text>
<line x1="314.70" y1="766.20" x2="445.80" y2="766.20" stroke="#111" stroke-width="1.5"/>
<line x1="315.00" y1="766.20" x2="315.00" y2="769.40" stroke="#111" stroke-width="1.5"/>
<text x="315.20" y="778.90" font-size="10" text-anchor="middle" fill="#222" textLength="5.10" lengthAdjust="spacingAndGlyphs">0</text>
<line x1="347.55" y1="766.20" x2="347.55" y2="769.40" stroke="#111" stroke-width="1.5"/>
<text x="347.75" y="778.90" font-size="10" text-anchor="middle" fill="#222" textLength="10.20" lengthAdjust="spacingAndGlyphs">20</text>
<line x1="380.10" y1="766.20" x2="380.10" y2="769.40" stroke="#111" stroke-width="1.5"/>
<text x="380.30" y="778.90" font-size="10" text-anchor="middle" fill="#222" textLength="10.20" lengthAdjust="spacingAndGlyphs">40</text>
<line x1="412.65" y1="766.20" x2="412.65" y2="769.40" stroke="#111" stroke-width="1.5"/>
<text x="412.85" y="778.90" font-size="10" text-anchor="middle" fill="#222" textLength="10.20" lengthAdjust="spacingAndGlyphs">60</text>
<line x1="445.20" y1="766.20" x2="445.20" y2="769.40" stroke="#111" stroke-width="1.5"/>
<text x="445.40" y="778.90" font-size="10" text-anchor="middle" fill="#222" textLength="10.20" lengthAdjust="spacingAndGlyphs">80</text>
<text x="379.20" y="794.50" font-size="10.5" text-anchor="middle" fill="#222" textLength="78.00" lengthAdjust="spacingAndGlyphs">Days post-treatment</text>
<text x="281.20" y="694.94" font-size="11" text-anchor="middle" fill="#222" textLength="82.40" lengthAdjust="spacingAndGlyphs" transform="rotate(-90 281.20 694.94)">Probability of survival</text>
<path d="M330,633.5 H362.5 V654.2 H365.6 V674.8 H369.4 V715.8 H391.7 V736.7 H411.3 V757.5" stroke="#0536c0" stroke-width="1.7" fill="none" />
<path d="M313.5,633.5 H330 V654.2 H334.8 V674.8 H337.7 V695.6 H342.5 V715.8 H345.8 V757.5" stroke="#cc0a18" stroke-width="1.7" fill="none" />
<circle cx="330.00" cy="633.50" r="1.6" fill="#000"/>
<circle cx="330.00" cy="654.20" r="1.6" fill="#000"/>
<circle cx="334.80" cy="674.80" r="1.6" fill="#000"/>
<circle cx="337.70" cy="695.60" r="1.6" fill="#000"/>
<circle cx="342.50" cy="715.80" r="1.6" fill="#000"/>
<circle cx="345.80" cy="757.50" r="1.6" fill="#000"/>
<circle cx="362.50" cy="654.20" r="1.6" fill="#000"/>
<circle cx="365.60" cy="674.80" r="1.6" fill="#000"/>
<circle cx="369.40" cy="715.80" r="1.6" fill="#000"/>
<circle cx="391.70" cy="736.70" r="1.6" fill="#000"/>
<circle cx="411.30" cy="757.50" r="1.6" fill="#000"/>
<text x="401.25" y="641.50" font-size="9.2" text-anchor="start" fill="#222" textLength="42.50" lengthAdjust="spacingAndGlyphs"><tspan font-style="italic">p</tspan> = 0.0007</text>
<line x1="452.50" y1="633.75" x2="468.00" y2="633.75" stroke="#cc0a18" stroke-width="2.0"/>
<circle cx="460.00" cy="633.75" r="1.6" fill="#000"/>
<text x="471.75" y="636.50" font-size="9.2" text-anchor="start" fill="#222" textLength="28.25" lengthAdjust="spacingAndGlyphs">Vehicle</text>
<line x1="452.50" y1="648.00" x2="468.00" y2="648.00" stroke="#0536c0" stroke-width="2.0"/>
<circle cx="460.00" cy="648.00" r="1.6" fill="#000"/>
<text x="469.50" y="650.80" font-size="9.2" text-anchor="start" fill="#222" textLength="32.50" lengthAdjust="spacingAndGlyphs">OTX015</text>
<text x="0" y="0" font-size="17" font-weight="bold" fill="#000" stroke="#000" stroke-width="0.45" transform="translate(7.11 815.20) scale(1.051 1)">H</text>
<text x="125.00" y="822.60" font-size="10" text-anchor="middle" fill="#222" textLength="41.50" lengthAdjust="spacingAndGlyphs">PRC2 WT</text>
<line x1="51.90" y1="826.38" x2="51.90" y2="956.40" stroke="#111" stroke-width="1.5"/>
<line x1="48.70" y1="955.60" x2="51.90" y2="955.60" stroke="#111" stroke-width="1.5"/>
<text x="46.20" y="959.90" font-size="10" text-anchor="end" fill="#222" textLength="5.20" lengthAdjust="spacingAndGlyphs">0</text>
<line x1="48.70" y1="924.67" x2="51.90" y2="924.67" stroke="#111" stroke-width="1.5"/>
<text x="46.20" y="928.97" font-size="10" text-anchor="end" fill="#222" textLength="10.40" lengthAdjust="spacingAndGlyphs">25</text>
<line x1="48.70" y1="893.74" x2="51.90" y2="893.74" stroke="#111" stroke-width="1.5"/>
<text x="46.20" y="898.04" font-size="10" text-anchor="end" fill="#222" textLength="10.40" lengthAdjust="spacingAndGlyphs">50</text>
<line x1="48.70" y1="862.81" x2="51.90" y2="862.81" stroke="#111" stroke-width="1.5"/>
<text x="46.20" y="867.11" font-size="10" text-anchor="end" fill="#222" textLength="10.40" lengthAdjust="spacingAndGlyphs">75</text>
<line x1="48.70" y1="831.88" x2="51.90" y2="831.88" stroke="#111" stroke-width="1.5"/>
<text x="46.20" y="836.18" font-size="10" text-anchor="end" fill="#222" textLength="15.60" lengthAdjust="spacingAndGlyphs">100</text>
<line x1="59.80" y1="963.60" x2="190.60" y2="963.60" stroke="#111" stroke-width="1.5"/>
<line x1="60.10" y1="963.60" x2="60.10" y2="966.80" stroke="#111" stroke-width="1.5"/>
<text x="60.30" y="976.30" font-size="10" text-anchor="middle" fill="#222" textLength="5.10" lengthAdjust="spacingAndGlyphs">0</text>
<line x1="92.60" y1="963.60" x2="92.60" y2="966.80" stroke="#111" stroke-width="1.5"/>
<text x="92.80" y="976.30" font-size="10" text-anchor="middle" fill="#222" textLength="10.20" lengthAdjust="spacingAndGlyphs">20</text>
<line x1="125.10" y1="963.60" x2="125.10" y2="966.80" stroke="#111" stroke-width="1.5"/>
<text x="125.30" y="976.30" font-size="10" text-anchor="middle" fill="#222" textLength="10.20" lengthAdjust="spacingAndGlyphs">40</text>
<line x1="157.60" y1="963.60" x2="157.60" y2="966.80" stroke="#111" stroke-width="1.5"/>
<text x="157.80" y="976.30" font-size="10" text-anchor="middle" fill="#222" textLength="10.20" lengthAdjust="spacingAndGlyphs">60</text>
<line x1="190.10" y1="963.60" x2="190.10" y2="966.80" stroke="#111" stroke-width="1.5"/>
<text x="190.30" y="976.30" font-size="10" text-anchor="middle" fill="#222" textLength="10.20" lengthAdjust="spacingAndGlyphs">80</text>
<text x="123.80" y="992.40" font-size="10.5" text-anchor="middle" fill="#222" textLength="78.00" lengthAdjust="spacingAndGlyphs">Days post-treatment</text>
<text x="26.00" y="893.04" font-size="11" text-anchor="middle" fill="#222" textLength="82.40" lengthAdjust="spacingAndGlyphs" transform="rotate(-90 26.00 893.04)">Probability of survival</text>
<path d="M59.8,831.9 H117.9 V856.9 H122.7 V881.9 H150.2 V906.5 H165.2 V931.2 H176.3 V956" stroke="#2a1aa8" stroke-width="1.7" fill="none" />
<path d="M59.8,831.9 H100 V853.1 H105 V873.5 H109.2 V893.7 H114.4 V914.6 H116.3 V935.4 H129.4 V955.6" stroke="#33ee22" stroke-width="1.7" fill="none" />
<path d="M59.8,831.9 H100 V873.5 H106.3 V893.7 H111.5 V935.4 H117.9 V955.6" stroke="#0536c0" stroke-width="1.7" fill="none" />
<path d="M59.8,831.9 H90.4 V873.5 H93.5 V914.6 H96.7 V935.4 H101.9 V955.6" stroke="#cc0a18" stroke-width="1.7" fill="none" />
<circle cx="76.00" cy="831.90" r="1.6" fill="#000"/>
<circle cx="100.00" cy="853.10" r="1.6" fill="#000"/>
<circle cx="90.40" cy="873.50" r="1.6" fill="#000"/>
<circle cx="100.00" cy="873.50" r="1.6" fill="#000"/>
<circle cx="105.00" cy="873.50" r="1.6" fill="#000"/>
<circle cx="106.30" cy="893.70" r="1.6" fill="#000"/>
<circle cx="117.90" cy="856.90" r="1.6" fill="#000"/>
<circle cx="122.70" cy="881.90" r="1.6" fill="#000"/>
<circle cx="93.50" cy="914.60" r="1.6" fill="#000"/>
<circle cx="114.40" cy="914.60" r="1.6" fill="#000"/>
<circle cx="96.70" cy="935.40" r="1.6" fill="#000"/>
<circle cx="111.50" cy="935.40" r="1.6" fill="#000"/>
<circle cx="116.30" cy="935.40" r="1.6" fill="#000"/>
<circle cx="101.90" cy="955.60" r="1.6" fill="#000"/>
<circle cx="117.90" cy="955.60" r="1.6" fill="#000"/>
<circle cx="129.40" cy="955.60" r="1.6" fill="#000"/>
<circle cx="150.20" cy="906.50" r="1.6" fill="#000"/>
<circle cx="165.20" cy="931.20" r="1.6" fill="#000"/>
<circle cx="176.30" cy="956.00" r="1.6" fill="#000"/>
<text x="148.50" y="842.00" font-size="9.2" text-anchor="start" fill="#222" textLength="39.80" lengthAdjust="spacingAndGlyphs"><tspan font-style="italic">p</tspan> &lt;0.0001</text>
<line x1="197.30" y1="830.60" x2="212.70" y2="830.60" stroke="#cc0a18" stroke-width="2.0"/>
<circle cx="204.60" cy="830.60" r="1.7" fill="#000"/>
<text x="221.70" y="833.90" font-size="9.2" text-anchor="start" fill="#222" textLength="28.90" lengthAdjust="spacingAndGlyphs">Vehicle</text>
<line x1="197.30" y1="842.10" x2="212.70" y2="842.10" stroke="#0536c0" stroke-width="2.0"/>
<circle cx="204.60" cy="842.10" r="1.7" fill="#000"/>
<text x="219.80" y="845.40" font-size="9.2" text-anchor="start" fill="#222" textLength="32.70" lengthAdjust="spacingAndGlyphs">OTX015</text>
<line x1="197.30" y1="854.60" x2="212.70" y2="854.60" stroke="#33ee22" stroke-width="2.0"/>
<circle cx="204.60" cy="854.60" r="1.7" fill="#000"/>
<text x="219.80" y="857.90" font-size="9.2" text-anchor="start" fill="#222" textLength="32.10" lengthAdjust="spacingAndGlyphs">GSK343</text>
<line x1="197.30" y1="866.70" x2="212.70" y2="866.70" stroke="#2a1aa8" stroke-width="2.0"/>
<circle cx="204.60" cy="866.70" r="1.7" fill="#000"/>
<text x="219.80" y="870.00" font-size="9.2" text-anchor="start" fill="#222" textLength="74.60" lengthAdjust="spacingAndGlyphs">GSK343 + OTX015</text>
<rect x="0.85" y="0.85" width="518.3" height="1002.3" fill="none" stroke="#000" stroke-width="1.7"/>
</svg>
</body></html>
